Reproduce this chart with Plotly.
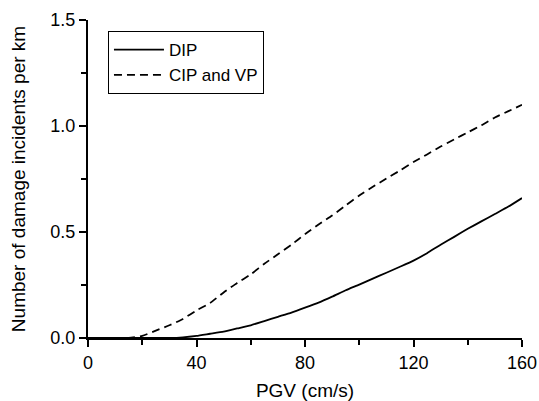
import plotly.graph_objects as go

# PGV (cm/s)
pgv_dip = [0, 5, 10, 15, 20, 25, 30, 35, 40, 45, 50, 55, 60, 65, 70, 75, 80, 85, 90, 95,
           100, 105, 110, 115, 120, 125, 130, 135, 140, 145, 150, 155, 160]
dip = [0.0, 0.0, 0.0, 0.0, 0.0, 0.0, 0.0, 0.003, 0.01, 0.02, 0.03, 0.045, 0.06, 0.08, 0.10,
       0.12, 0.143, 0.167, 0.195, 0.225, 0.252, 0.28, 0.308, 0.336, 0.365, 0.40, 0.44,
       0.477, 0.515, 0.55, 0.585, 0.62, 0.66]

pgv_cip = [0, 5, 10, 15, 20, 25, 30, 35, 40, 45, 50, 55, 60, 65, 70, 75, 80, 85, 90, 95,
           100, 105, 110, 115, 120, 125, 130, 135, 140, 145, 150, 155, 160]
cip_vp = [0.0, 0.0, 0.0, 0.0, 0.01, 0.035, 0.06, 0.09, 0.13, 0.165, 0.215, 0.26, 0.30,
          0.35, 0.395, 0.44, 0.49, 0.535, 0.578, 0.625, 0.672, 0.713, 0.752, 0.79, 0.83,
          0.866, 0.903, 0.937, 0.97, 1.003, 1.04, 1.07, 1.10]

x_ticks = [0, 40, 80, 120, 160]
y_ticks = [0.0, 0.5, 1.0, 1.5]
y_tick_labels = ["0.0", "0.5", "1.0", "1.5"]

FONT = "Liberation Sans"

fig = go.Figure()
fig.add_trace(go.Scatter(x=pgv_dip, y=dip, mode="lines", name="DIP",
                         line=dict(color="black", width=1.8, shape="spline", smoothing=0.5)))
fig.add_trace(go.Scatter(x=pgv_cip, y=cip_vp, mode="lines", name="CIP and VP",
                         line=dict(color="black", width=1.8, dash="8px,5px",
                                   shape="spline", smoothing=0.5)))

fig.update_layout(
    width=539, height=401,
    margin=dict(l=88, r=17, t=20, b=63, autoexpand=False),
    plot_bgcolor="white", paper_bgcolor="white",
    font=dict(family=FONT, size=18, color="black"),
    showlegend=True,
    legend=dict(x=0.046, y=0.965, xanchor="left", yanchor="top",
                bordercolor="black", borderwidth=1, bgcolor="white",
                font=dict(family=FONT, size=17, color="black"),
                tracegroupgap=0, itemwidth=50),
    xaxis=dict(range=[0, 160], tickvals=x_ticks, ticktext=[str(v) for v in x_ticks],
               automargin=False,
               showgrid=False, zeroline=False, showline=True, linecolor="black", linewidth=2,
               ticks="outside", ticklen=7, tickwidth=2, tickcolor="black",
               tickfont=dict(family=FONT, size=18),
               minor=dict(tickvals=[20, 60, 100, 140], ticks="outside", ticklen=5,
                          tickwidth=2, tickcolor="black", showgrid=False),
               title=dict(text="PGV (cm/s)", font=dict(family=FONT, size=19), standoff=13)),
    yaxis=dict(range=[0, 1.5], tickvals=y_ticks, ticktext=y_tick_labels,
               automargin=False,
               showgrid=False, zeroline=False, showline=True, linecolor="black", linewidth=2,
               ticks="outside", ticklen=7, tickwidth=2, tickcolor="black",
               tickfont=dict(family=FONT, size=18),
               minor=dict(tickvals=[0.25, 0.75, 1.25], ticks="outside", ticklen=5,
                          tickwidth=2, tickcolor="black", showgrid=False),
               title=dict(text="Number of damage incidents per km",
                          font=dict(family=FONT, size=19), standoff=20)),
)

fig.write_html("out.html", config={"displayModeBar": False},
               post_script="document.body.style.margin='0';document.body.style.overflow='hidden';")
